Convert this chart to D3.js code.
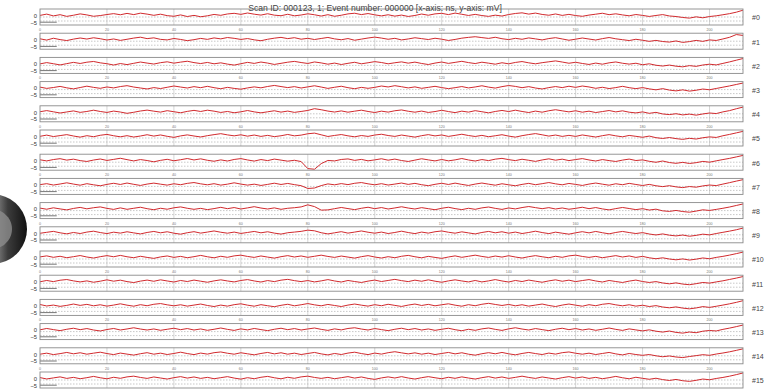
<!DOCTYPE html>
<html>
<head>
<meta charset="utf-8">
<script src="https://cdn.jsdelivr.net/npm/d3@7"></script>
<style>
  html, body { margin: 0; padding: 0; background: #fff; }
  svg { display: block; font-family: "Liberation Sans", Arial, sans-serif; }
</style>
</head>
<body>
<svg id="chart" width="774" height="391"></svg>
<script>
// Digitizer readout: 16 channels, one sample every 2 ns from 0 to 210 ns (values in mV)
const title = "Scan ID: 000123, 1; Event number: 000000  [x-axis: ns, y-axis: mV]";
const sampleStepNs = 2;
const xTickValues = [0, 20, 40, 60, 80, 100, 120, 140, 160, 180, 200];
const yTickValues = [0, -5];
const channelLabels = ["#0","#1","#2","#3","#4","#5","#6","#7","#8","#9","#10","#11","#12","#13","#14","#15"];

const ch0 = [2.0,3.6,1.4,2.9,0.8,2.2,3.9,2.6,0.9,1.8,3.1,4.2,2.8,4.5,3.0,4.8,3.6,2.1,3.5,1.7,0.9,2.6,0.6,2.0,0.3,1.5,3.2,2.1,3.8,4.6,3.3,5.0,3.5,2.4,4.1,2.3,1.6,3.4,1.5,2.5,4.0,2.8,1.2,2.9,0.9,2.2,3.9,4.7,3.0,4.3,2.7,1.4,2.8,1.1,2.4,0.7,1.9,3.7,2.2,3.9,4.6,3.0,4.9,3.4,1.9,3.3,1.8,0.8,2.3,1.2,3.1,4.4,5.2,3.6,4.9,3.2,2.2,3.8,2.0,3.3,1.8,0.9,2.4,3.5,4.7,2.9,4.0,2.6,1.5,3.1,2.0,0.7,1.9,3.0,1.3,0.6,-0.6,-1.4,0.2,-1.0,0.6,1.5,2.8,4.2,6.0,8.5];
const ch1 = [3.0,1.4,3.7,2.0,0.8,2.6,4.0,2.7,4.3,3.1,1.5,2.8,1.0,2.4,3.9,5.0,3.2,4.2,2.3,1.6,3.4,2.2,0.7,1.9,3.5,2.3,4.1,2.9,4.6,3.6,2.2,3.3,1.7,0.6,2.4,3.8,4.8,3.2,4.4,2.5,3.6,2.1,3.4,4.7,2.9,1.8,3.3,1.2,2.6,4.0,5.1,3.9,2.4,3.6,1.6,2.8,4.3,3.2,2.1,3.7,2.5,0.9,2.2,3.8,4.8,5.6,4.5,3.5,4.9,3.1,2.0,3.6,2.4,4.1,2.9,1.6,3.3,4.4,2.8,1.2,2.5,4.0,2.7,1.5,3.2,4.6,3.0,1.9,0.8,2.4,1.2,-0.2,1.0,-0.4,-1.1,0.3,-1.5,-0.5,1.0,-0.2,1.6,0.9,2.8,4.9,8.3,7.2];
const ch2 = [1.9,3.5,2.1,0.6,2.2,3.8,2.4,4.0,4.9,3.2,2.1,0.5,2.3,1.0,2.6,4.2,2.9,1.7,3.4,4.5,2.8,4.1,5.2,3.5,2.3,3.7,2.0,3.2,1.6,0.4,2.1,3.8,2.5,4.2,2.9,1.2,2.6,4.0,5.0,3.6,2.4,4.3,3.1,1.5,2.9,1.1,2.6,3.9,2.0,3.3,4.7,3.6,2.0,3.3,4.4,2.8,4.1,2.4,1.1,2.9,4.2,2.5,3.8,5.1,3.5,2.3,4.0,2.8,1.5,3.3,2.0,3.7,4.8,3.2,2.0,3.4,4.5,5.6,4.2,2.7,3.9,2.4,1.2,2.9,1.5,3.2,4.3,2.7,1.6,2.7,0.8,2.0,0.2,-0.8,0.4,-1.0,-1.8,-0.3,-1.2,0.5,1.5,0.6,2.5,4.4,6.5,8.6];
const ch3 = [3.1,1.5,2.6,4.0,2.2,0.9,2.6,4.3,2.8,1.6,3.3,2.1,3.8,4.9,3.2,2.0,0.8,2.5,1.3,2.9,4.5,3.2,2.0,3.7,2.4,4.1,2.4,1.1,2.8,1.5,0.5,2.1,3.4,2.2,3.9,5.2,3.8,2.5,3.7,2.0,3.4,4.8,3.2,1.5,2.9,4.2,2.4,1.1,2.8,1.6,2.8,4.5,3.3,4.9,3.6,2.1,3.4,1.6,2.8,4.1,2.5,1.2,2.4,3.8,2.1,3.3,4.8,3.1,1.9,3.7,5.1,4.0,2.4,3.7,2.0,0.8,2.5,3.8,2.5,4.2,2.8,4.5,3.3,1.6,2.9,1.3,2.5,4.1,2.4,1.2,2.5,0.9,-0.3,1.2,-0.6,-1.6,-0.3,-1.9,-0.8,0.7,-0.2,1.4,3.0,4.6,6.4,8.2];
const ch4 = [2.6,4.0,2.5,1.0,2.3,3.6,1.8,2.9,4.5,2.9,1.7,3.4,2.2,0.6,1.9,3.5,4.6,3.3,2.1,3.9,2.6,1.3,3.0,4.3,2.9,4.5,3.3,1.7,2.9,1.3,2.5,4.1,2.4,1.2,2.5,3.8,2.1,3.4,1.8,2.9,4.2,6.4,5.1,3.4,2.2,3.6,2.0,3.3,4.5,2.9,1.6,3.3,2.1,3.8,4.8,3.2,2.0,3.4,1.7,2.8,4.4,2.8,1.5,3.3,2.1,3.9,2.6,1.2,2.9,4.2,2.8,4.5,2.9,1.6,3.4,2.0,3.8,5.1,3.7,2.4,3.8,2.0,3.3,1.6,2.8,4.1,2.4,3.7,2.0,1.1,2.4,0.6,1.8,-0.2,-1.0,0.1,-1.4,-0.4,-1.7,-0.2,1.0,0.3,2.4,4.0,6.3,8.4];
const ch5 = [2.1,3.6,1.8,3.0,4.2,2.5,1.1,2.9,1.6,3.4,4.5,2.8,1.5,2.9,1.2,2.5,4.1,2.4,3.8,2.1,0.8,2.6,3.9,2.5,1.3,2.9,4.2,5.4,3.9,2.7,4.0,2.3,3.7,2.0,3.3,1.7,2.8,4.4,2.7,3.6,5.3,6.1,4.0,1.9,3.2,4.3,2.7,1.5,3.1,2.0,3.7,4.7,3.1,2.0,3.7,2.4,1.1,2.9,4.2,2.6,3.8,2.0,3.3,4.7,3.1,1.9,3.3,1.6,2.8,4.1,2.4,1.1,2.9,4.3,5.5,4.0,2.4,3.7,2.0,3.3,2.0,3.8,2.5,1.2,2.9,4.2,2.7,1.5,3.2,2.1,0.9,2.4,0.4,-0.6,0.6,-0.8,-1.7,-0.4,-1.3,0.3,1.4,0.7,2.8,4.5,6.4,8.3];
const ch6 = [3.0,1.6,3.3,4.4,2.6,3.8,2.0,0.9,2.7,4.0,2.2,3.5,4.9,3.2,1.6,3.3,2.1,0.5,2.3,3.6,1.8,3.1,4.6,2.8,4.2,2.4,1.2,2.9,1.5,3.4,4.5,2.8,1.4,3.3,2.0,3.9,2.6,1.3,2.4,0.8,-8.0,-8.8,-1.8,2.2,1.6,3.4,4.1,2.3,3.5,1.7,2.9,4.3,2.5,3.9,2.1,0.9,2.6,4.3,2.9,1.6,3.4,1.7,2.9,4.6,2.8,1.5,3.3,2.0,3.8,4.8,3.2,2.0,3.7,2.4,1.0,2.8,4.2,2.5,3.8,2.0,3.3,4.5,2.8,1.5,3.3,2.0,0.9,2.6,3.9,2.1,2.9,1.1,-0.1,1.5,-0.4,-1.4,-0.2,-1.6,-0.6,1.0,0.0,1.7,3.3,4.8,6.6,8.5];
const ch7 = [2.2,3.4,1.7,3.0,4.5,2.9,1.5,3.4,2.0,0.8,2.5,3.9,2.4,4.2,2.6,1.2,2.9,4.1,2.8,1.6,3.3,2.1,3.8,4.8,3.2,2.0,3.4,1.6,2.8,4.5,2.9,1.6,2.8,1.2,2.5,4.0,2.4,3.7,2.2,0.9,-2.6,-2.0,1.0,3.1,2.0,3.5,2.2,3.9,4.8,3.2,2.0,3.4,1.7,2.9,4.2,2.5,3.8,2.1,0.9,2.6,3.9,2.4,4.1,2.5,1.2,2.9,4.2,2.8,1.5,3.3,2.0,0.8,2.5,3.8,2.1,3.4,4.8,3.2,2.0,3.7,2.5,1.2,2.9,4.2,2.8,1.5,3.3,2.1,3.8,2.4,1.1,2.5,0.8,-0.3,0.9,-0.6,-1.5,-0.2,-1.0,0.6,1.7,1.0,2.9,4.7,6.6,8.4];
const ch8 = [3.1,1.7,3.5,2.1,0.9,2.7,4.0,2.2,3.6,4.6,2.8,1.5,3.4,1.6,2.9,4.2,2.4,1.1,2.9,1.7,3.5,4.6,2.9,1.6,2.8,1.2,2.5,4.1,2.4,3.8,2.0,3.4,4.9,3.2,2.0,3.4,1.6,2.9,3.6,4.6,7.2,5.0,0.6,0.9,2.4,3.9,2.5,1.2,2.9,4.2,2.4,3.8,2.0,3.3,4.8,3.2,2.0,3.7,2.4,1.1,2.9,4.2,2.5,1.2,2.9,1.6,3.4,4.5,2.8,1.5,3.3,2.1,3.8,5.1,3.7,2.4,3.7,2.0,3.3,1.7,2.8,4.2,2.4,3.8,2.1,0.9,2.5,3.9,2.6,1.2,2.4,0.7,1.8,-0.3,-1.0,0.2,-1.2,-2.0,-0.6,1.0,0.2,1.5,2.9,4.5,6.4,8.3];
const ch9 = [1.9,3.1,4.3,2.5,1.2,2.9,1.6,3.4,4.5,2.8,1.5,3.3,2.1,3.8,2.4,1.1,2.9,4.2,2.5,3.8,2.0,0.8,2.6,3.9,2.1,3.4,4.8,3.2,2.0,3.4,1.7,2.9,4.2,2.5,3.8,2.1,0.9,2.6,3.4,4.3,5.8,5.0,2.6,1.1,2.5,3.9,2.1,3.4,4.8,3.2,2.0,3.4,1.6,2.9,4.5,2.8,1.5,3.4,2.1,3.8,4.8,3.2,2.0,3.7,2.4,1.1,2.9,4.2,2.5,3.8,2.0,3.4,1.6,2.9,4.5,2.8,1.5,3.3,2.0,0.8,2.5,3.9,2.4,4.2,2.6,1.2,2.9,4.2,2.8,1.6,2.7,1.0,-0.2,1.1,-0.5,-1.4,-0.3,-1.8,-0.7,0.8,-0.1,1.6,3.1,4.6,6.3,8.4];
const ch10 = [2.6,3.9,2.1,3.4,1.6,2.9,4.3,2.5,1.2,2.9,4.2,2.8,4.5,2.8,1.6,3.4,2.0,0.8,2.6,3.8,2.0,3.3,1.6,2.9,4.5,2.8,1.5,3.4,2.1,3.9,4.8,3.2,2.0,3.8,2.4,1.1,2.9,4.2,2.5,3.8,2.1,3.4,4.8,3.2,2.0,3.7,2.4,1.1,2.9,4.2,2.5,1.2,2.9,1.6,3.4,4.5,2.8,1.5,3.3,2.0,0.8,2.5,3.9,2.1,3.4,4.8,3.2,2.0,3.7,2.4,4.1,2.5,1.2,2.9,4.2,2.8,1.6,3.4,2.1,3.9,4.8,3.2,2.0,3.3,1.6,2.9,4.2,2.5,3.8,2.0,3.3,1.5,0.3,1.5,0.0,-1.0,0.1,-1.3,-0.2,1.3,0.3,2.0,3.3,4.9,6.7,8.6];
const ch11 = [1.8,3.4,2.0,3.7,4.6,2.9,1.6,2.9,1.2,2.5,4.2,2.5,3.8,2.0,0.8,2.6,3.9,2.4,4.2,2.8,1.5,3.4,2.1,3.9,2.5,1.2,2.9,4.2,2.8,1.6,3.4,4.5,2.8,1.5,3.3,2.0,3.8,4.8,3.2,2.0,3.3,1.6,2.9,4.5,2.8,1.5,3.4,2.1,0.9,2.6,3.9,2.1,3.4,4.8,3.2,2.0,3.8,2.4,4.2,2.5,1.2,2.9,4.2,2.8,1.6,3.4,1.6,2.9,4.5,2.8,1.5,3.4,2.1,3.9,2.5,1.2,2.9,4.2,2.4,3.8,2.0,3.3,4.5,2.8,1.5,3.4,2.1,0.9,2.6,3.9,2.1,0.9,2.0,0.3,-0.8,0.4,-1.1,-1.9,-0.6,0.9,0.1,1.6,3.0,4.7,6.4,8.3];
const ch12 = [3.6,1.8,2.9,1.3,2.5,4.2,2.5,3.8,2.0,3.3,1.6,2.9,4.5,2.8,1.5,3.4,2.1,3.9,4.8,3.2,2.0,3.3,1.6,2.9,4.2,2.4,1.1,2.9,1.6,3.4,4.5,2.8,1.5,3.4,2.1,0.9,2.6,3.9,2.0,3.3,4.8,3.2,2.0,3.7,2.4,1.1,2.9,4.2,2.8,1.6,3.4,2.1,3.9,2.5,1.2,2.9,4.2,2.4,3.8,2.0,3.3,4.5,2.8,1.5,3.4,2.1,3.9,5.1,3.7,2.4,3.7,2.0,3.3,1.6,2.9,4.2,2.4,1.1,2.9,4.2,2.8,1.5,3.4,2.1,3.9,4.8,3.2,2.0,3.3,1.6,2.7,1.1,2.2,0.5,-0.5,0.6,-0.9,-1.8,-0.7,1.0,0.0,1.4,2.9,4.5,6.3,8.4];
const ch13 = [2.2,3.9,2.5,1.2,2.9,4.2,2.4,3.8,2.0,0.8,2.6,3.9,2.0,3.3,4.8,3.2,2.0,3.3,1.6,2.9,4.2,2.4,3.8,2.0,3.3,1.6,2.9,4.5,2.8,1.5,3.4,2.1,3.9,2.5,1.2,2.9,4.2,2.4,3.8,2.0,3.3,4.5,2.8,1.5,3.4,2.1,3.9,4.8,3.2,2.0,3.8,2.5,1.2,2.9,4.2,2.4,3.8,2.0,3.3,1.6,2.9,4.2,2.4,1.1,2.9,1.6,3.4,4.5,2.8,1.5,3.4,4.8,3.2,2.0,3.8,2.5,1.2,2.9,4.2,2.4,3.8,2.0,3.3,1.6,2.9,4.5,2.8,1.5,3.4,2.1,0.9,2.2,0.5,-0.6,0.7,-1.0,-1.9,-0.5,-1.4,0.5,1.4,0.8,2.8,4.4,6.2,8.2];
const ch14 = [2.0,3.3,1.5,2.7,4.2,2.5,3.8,2.0,3.3,4.5,2.8,1.5,3.4,2.1,0.9,2.6,3.9,2.0,3.3,1.6,2.9,4.5,2.8,1.5,3.4,2.1,3.9,4.8,3.2,2.0,3.8,2.5,1.2,2.9,4.2,2.4,3.8,2.0,3.3,1.6,2.9,4.2,2.4,1.1,2.9,1.6,3.4,4.5,2.8,1.5,3.4,2.1,3.9,5.1,3.7,2.4,3.7,2.0,3.3,1.6,2.9,4.2,2.4,3.8,2.0,0.8,2.6,3.9,2.5,4.2,2.5,1.2,2.9,4.2,2.8,1.6,3.4,2.1,3.9,4.8,3.2,2.0,3.3,1.6,2.9,4.2,2.4,1.1,2.9,1.6,0.6,1.6,0.0,-1.2,-0.2,-1.5,-2.2,-0.9,0.2,1.4,0.6,2.2,3.5,5.0,6.8,8.7];
const ch15 = [3.0,1.3,2.6,3.9,2.0,3.3,1.6,2.9,4.5,2.8,1.5,3.4,2.1,3.9,4.8,3.2,2.0,3.8,2.5,1.2,2.9,4.2,2.4,3.8,2.0,3.3,1.6,2.9,4.2,2.4,1.1,2.9,1.6,3.4,4.5,2.8,1.5,3.4,2.1,3.9,4.8,3.2,2.0,3.3,1.6,2.9,4.2,2.4,3.8,2.0,0.8,2.6,3.9,2.5,4.2,2.5,1.2,2.9,4.2,2.8,1.6,3.4,2.1,3.9,2.5,1.2,2.9,4.2,2.4,3.8,2.0,3.3,4.8,3.2,2.0,3.8,2.5,1.2,2.9,4.2,2.4,3.8,2.0,3.3,1.6,2.9,4.5,2.8,1.5,3.4,2.1,0.9,2.2,0.5,-0.6,0.7,-0.9,-1.7,-0.4,1.2,0.3,1.9,3.2,4.8,6.7,8.8];

const channels = [ch0, ch1, ch2, ch3, ch4, ch5, ch6, ch7, ch8, ch9, ch10, ch11, ch12, ch13, ch14, ch15];

// ---- layout ----
const plotLeft = 40, plotRight = 743;
const stripTop0 = 9, stripPitch = 24.2, stripH = 16;
const traceColor = "#d12a2e";

const svg = d3.select("#chart");
const defs = svg.append("defs");

const x = d3.scaleLinear().domain([0, 210]).range([plotLeft, plotRight]);

// partial logo at the far left edge
const logoGrad = defs.append("linearGradient")
  .attr("id", "logoGrad").attr("x1", "0").attr("x2", "1").attr("y1", "0").attr("y2", "0");
logoGrad.append("stop").attr("offset", "0").attr("stop-color", "#9a9a9a");
logoGrad.append("stop").attr("offset", "0.45").attr("stop-color", "#3c3c3c");
logoGrad.append("stop").attr("offset", "1").attr("stop-color", "#111");
const logo = svg.append("g").attr("transform", "translate(-8,229)");
logo.append("path")
  .attr("d", d3.arc()({ innerRadius: 0, outerRadius: 35, startAngle: 0.2, endAngle: Math.PI - 0.2 }))
  .attr("fill", "url(#logoGrad)");
logo.append("path")
  .attr("d", d3.arc()({ innerRadius: 0, outerRadius: 20, startAngle: 0.3, endAngle: Math.PI - 0.3 }))
  .attr("fill", "#8c8c8c").attr("opacity", 0.8);

const line = d3.line()
  .x((d, i) => x(i * sampleStepNs))
  .y(d => d);

channels.forEach((vals, i) => {
  const top = stripTop0 + i * stripPitch;
  const y = d3.scaleLinear().domain([-10, 10]).range([top + stripH, top]);
  const g = svg.append("g");

  // vertical grid
  g.selectAll("line.vg").data(xTickValues.filter(t => t > 0)).join("line")
    .attr("x1", d => x(d)).attr("x2", d => x(d))
    .attr("y1", top).attr("y2", top + stripH)
    .attr("stroke", "#c4c4c4").attr("stroke-width", 0.7);

  // horizontal dotted grid
  g.selectAll("line.hg").data(yTickValues).join("line")
    .attr("x1", plotLeft).attr("x2", plotRight)
    .attr("y1", d => y(d)).attr("y2", d => y(d))
    .attr("stroke", "#b0b0b0").attr("stroke-width", 0.7)
    .attr("stroke-dasharray", "1.5,1.5");

  // short reference bar
  g.append("line")
    .attr("x1", x(0)).attr("x2", x(5))
    .attr("y1", y(-6.5)).attr("y2", y(-6.5))
    .attr("stroke", "#777").attr("stroke-width", 1);

  // trace
  g.append("path")
    .attr("d", line(vals.map(v => y(v))))
    .attr("fill", "none")
    .attr("stroke", traceColor)
    .attr("stroke-width", 1)
    .attr("stroke-linejoin", "round");

  // frame
  g.append("rect")
    .attr("x", plotLeft).attr("y", top)
    .attr("width", plotRight - plotLeft).attr("height", stripH)
    .attr("fill", "none").attr("stroke", "#8a8a8a").attr("stroke-width", 0.9);

  // y tick labels (stacked tightly at the left edge)
  g.selectAll("text.yt").data(yTickValues).join("text")
    .attr("x", 37).attr("y", d => d === 0 ? y(d) - 1.2 : y(d) + 1.6)
    .attr("dy", "0.35em")
    .attr("text-anchor", "end")
    .attr("font-size", 5.8)
    .attr("fill", "#333")
    .text(d => d === 0 ? "0" : "\u2212" + Math.abs(d));

  // x tick labels under every other strip
  if (i % 2 === 0) {
    g.selectAll("text.xt").data(xTickValues).join("text")
      .attr("x", d => x(d)).attr("y", top + stripH + 6)
      .attr("text-anchor", "middle")
      .attr("font-size", 3.6)
      .attr("fill", "#777")
      .text(d => d);
  }

  // channel label
  g.append("text")
    .attr("x", 752).attr("y", top + stripH / 2 + 1)
    .attr("dy", "0.35em")
    .attr("font-size", 7)
    .attr("fill", "#444")
    .text(channelLabels[i]);
});

svg.append("text")
  .attr("x", 375).attr("y", 10.5)
  .attr("text-anchor", "middle")
  .attr("font-size", 8.6)
  .attr("fill", "#444")
  .text(title);
</script>
</body>
</html>
